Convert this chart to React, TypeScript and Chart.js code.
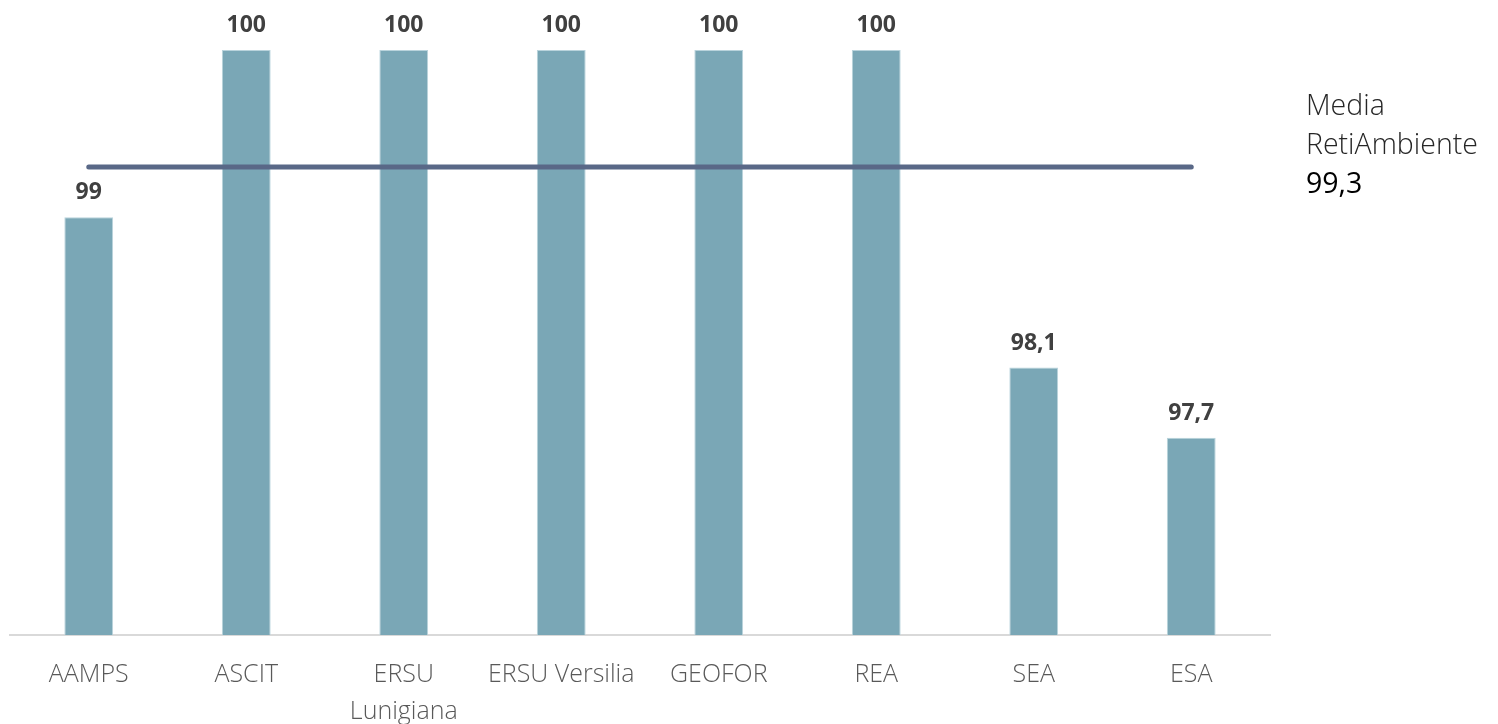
import React, { useEffect, useRef } from "react";
import { Chart, registerables } from "chart.js";

Chart.register(...registerables);

const categories: (string | string[])[] = [
  "AAMPS",
  "ASCIT",
  ["ERSU", "Lunigiana"],
  "ERSU Versilia",
  "GEOFOR",
  "REA",
  "SEA",
  "ESA",
];
const values: number[] = [99, 100, 100, 100, 100, 100, 98.1, 97.68];
const mediaValue = 99.3;
const mediaLine: number[] = categories.map(() => mediaValue);
const legendLines: string[] = ["Media", "RetiAmbiente"];
const legendValue = "99,3";

const FONT = "'Open Sans', sans-serif";

const fmt = (v: number) => String(Math.round(v * 10) / 10).replace(".", ",");

const valueLabelPlugin = {
  id: "valueLabels",
  afterDatasetsDraw(chart: any) {
    const meta = chart.getDatasetMeta(0);
    const ctx = chart.ctx;
    ctx.save();
    ctx.font = `700 23px ${FONT}`;
    ctx.fillStyle = "#404040";
    ctx.textAlign = "center";
    ctx.textBaseline = "alphabetic";
    meta.data.forEach((bar: any, i: number) => {
      ctx.fillText(fmt(values[i]), bar.x, bar.y - 18);
    });
    ctx.restore();
  },
};

export default function App() {
  const ref = useRef<HTMLCanvasElement | null>(null);
  useEffect(() => {
    if (!ref.current) return;
    const chart = new Chart(ref.current, {
      type: "bar",
      data: {
        labels: categories as any,
        datasets: [
          {
            type: "bar",
            data: values,
            backgroundColor: "#7aa7b6",
            borderColor: "#b9d3dc",
            borderWidth: 1,
            categoryPercentage: 1,
            barPercentage: 0.31,
            order: 2,
          } as any,
          {
            type: "line",
            data: mediaLine,
            borderColor: "#596887",
            borderWidth: 5,
            borderCapStyle: "round",
            pointRadius: 0,
            fill: false,
            order: 1,
          } as any,
        ],
      },
      options: {
        animation: false,
        responsive: false,
        layout: { padding: { left: 10, right: 228, top: 50, bottom: 0 } },
        plugins: { legend: { display: false }, tooltip: { enabled: false } },
        scales: {
          y: {
            display: false,
            min: 96.5,
            max: 100,
          },
          x: {
            grid: { display: false, drawTicks: false },
            border: { display: true, color: "#d9d9d9", width: 2 },
            ticks: {
              color: "#595959",
              font: { family: FONT, size: 25, weight: 300 as any, lineHeight: 1.45 },
              padding: 22,
              maxRotation: 0,
              autoSkip: false,
            },
            afterFit: (scale: any) => {
              scale.height = 89;
            },
          },
        },
      },
      plugins: [valueLabelPlugin],
    });
    return () => chart.destroy();
  }, []);

  return (
    <div style={{ position: "absolute", left: 0, top: 0, width: 1498, height: 724, background: "#fff" }}>
      <canvas ref={ref} width={1498} height={724} style={{ display: "block" }} />
      <div
        style={{
          position: "absolute",
          left: 1306,
          top: 85,
          fontFamily: FONT,
          fontSize: 28.5,
          lineHeight: "39px",
          fontWeight: 300,
        }}
      >
        {legendLines.map((l) => (
          <div key={l} style={{ color: "#262626" }}>{l}</div>
        ))}
        <div style={{ color: "#000", fontWeight: 400 }}>{legendValue}</div>
      </div>
    </div>
  );
}
